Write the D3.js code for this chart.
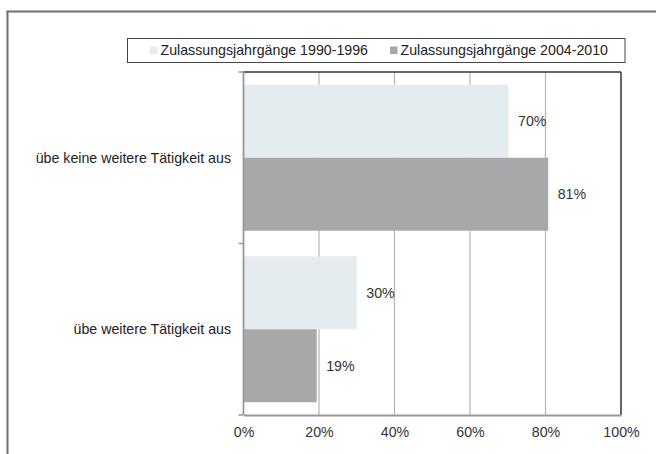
<!DOCTYPE html>
<html>
<head>
<meta charset="utf-8">
<script src="https://cdn.jsdelivr.net/npm/d3@7"></script>
<style>
  html, body { margin: 0; padding: 0; background: #fff; }
  svg { display: block; font-family: "Liberation Sans", Arial, sans-serif; }
</style>
</head>
<body>
<script>
const categories = ["übe keine weitere Tätigkeit aus", "übe weitere Tätigkeit aus"];
const seriesNames = ["Zulassungsjahrgänge 1990-1996", "Zulassungsjahrgänge 2004-2010"];
const series1990 = [70.2, 30.0];
const series2004 = [80.7, 19.4];
const xTicks = [0, 20, 40, 60, 80, 100];
const colors = ["#e4ecf0", "#a8a8ab"];

const W = 656, H = 454;
const FS = 14.2;
const svg = d3.select("body").append("svg").attr("width", W).attr("height", H);

// outer frame (top and left visible)
svg.append("line").attr("x1", 6.5).attr("x2", W).attr("y1", 11.5).attr("y2", 11.5)
  .attr("stroke", "#6e6e6e").attr("stroke-width", 2);
svg.append("line").attr("x1", 7.5).attr("x2", 7.5).attr("y1", 11).attr("y2", H)
  .attr("stroke", "#6e6e6e").attr("stroke-width", 2);

const plot = { left: 243.5, right: 621, top: 72, bottom: 415 };

const x = d3.scaleLinear().domain([0, 100]).range([plot.left, plot.right]);
const y = d3.scaleBand().domain(categories).range([plot.top, plot.bottom]).paddingInner(0.149).paddingOuter(0.0745);
const ySub = d3.scaleBand().domain([0, 1]).range([0, y.bandwidth()]);

const data = categories.map((c, i) => ({ cat: c, vals: [series1990[i], series2004[i]] }));

// gridlines
svg.append("g").selectAll("line").data(xTicks.filter(t => t > 0 && t < 100)).join("line")
  .attr("x1", d => x(d)).attr("x2", d => x(d))
  .attr("y1", plot.top).attr("y2", plot.bottom)
  .attr("stroke", "#b4b4b4").attr("stroke-width", 1.2);

// bars
const groups = svg.append("g").selectAll("g").data(data).join("g")
  .attr("transform", d => `translate(0,${y(d.cat)})`);
groups.selectAll("rect").data(d => d.vals.map((v, k) => ({ v, k }))).join("rect")
  .attr("x", x(0)).attr("y", d => ySub(d.k))
  .attr("width", d => x(d.v) - x(0)).attr("height", ySub.bandwidth())
  .attr("fill", d => colors[d.k]);
groups.selectAll("text").data(d => d.vals.map((v, k) => ({ v, k }))).join("text")
  .attr("x", d => x(d.v) + 9.5).attr("y", d => ySub(d.k) + ySub.bandwidth() / 2)
  .attr("dy", "0.35em").attr("font-size", FS).attr("fill", "#333")
  .text(d => Math.round(d.v) + "%");

// plot border top & right (dark)
svg.append("line").attr("x1", plot.left).attr("x2", plot.right).attr("y1", plot.top).attr("y2", plot.top)
  .attr("stroke", "#333").attr("stroke-width", 1.5);
svg.append("line").attr("x1", plot.right).attr("x2", plot.right).attr("y1", plot.top).attr("y2", plot.bottom)
  .attr("stroke", "#333").attr("stroke-width", 1.5);

// x axis
const xAxis = d3.axisBottom(x).tickValues(xTicks).tickFormat(d => d + "%").tickSize(0).tickPadding(12);
const gx = svg.append("g").attr("transform", `translate(0,${plot.bottom})`).call(xAxis);
gx.select(".domain").attr("stroke", "#999").attr("stroke-width", 1.8);
gx.selectAll("text").attr("font-size", FS).attr("fill", "#333").attr("font-family", "Liberation Sans, Arial, sans-serif");

// y axis
const gy = svg.append("g").attr("transform", `translate(${plot.left},0)`);
gy.append("line").attr("x1", 0).attr("x2", 0).attr("y1", plot.top).attr("y2", plot.bottom)
  .attr("stroke", "#999").attr("stroke-width", 1.8);
const yTickPos = [plot.top, (plot.top + plot.bottom) / 2, plot.bottom];
gy.selectAll("line.tk").data(yTickPos).join("line").attr("class", "tk")
  .attr("x1", -5).attr("x2", 0).attr("y1", d => d).attr("y2", d => d)
  .attr("stroke", "#999").attr("stroke-width", 1.5);
gy.selectAll("text").data(categories).join("text")
  .attr("x", -12.5).attr("y", d => y(d) + y.bandwidth() / 2)
  .attr("dy", "0.35em").attr("text-anchor", "end").attr("font-size", FS).attr("fill", "#222")
  .text(d => d);

// legend
const leg = svg.append("g");
leg.append("rect").attr("x", 127.5).attr("y", 38.5).attr("width", 497.5).attr("height", 24)
  .attr("fill", "#fff").attr("stroke", "#444").attr("stroke-width", 1);
const legX = [150, 390];
seriesNames.forEach((n, i) => {
  leg.append("rect").attr("x", legX[i]).attr("y", 46.5).attr("width", 7.5).attr("height", 7.5).attr("fill", colors[i]);
  leg.append("text").attr("x", legX[i] + 10.5).attr("y", 50.5).attr("dy", "0.35em")
    .attr("font-size", FS).attr("fill", "#222").text(n);
});
</script>
</body>
</html>
